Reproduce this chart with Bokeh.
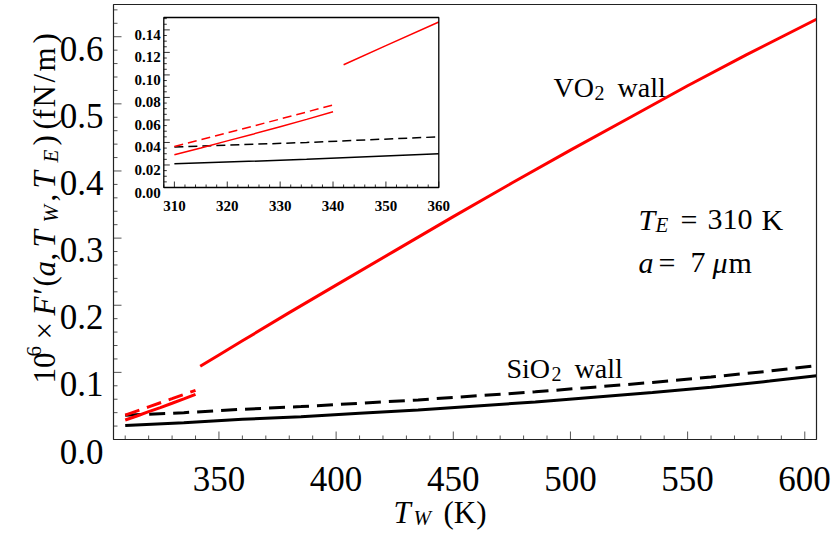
import numpy as np
from bokeh.plotting import figure
from bokeh.models import Range1d, Label
from bokeh.core.properties import value
from bokeh.embed import file_html
from bokeh.resources import INLINE

# ---------------- data ----------------
# VO2 wall, insulating phase
t_vo2_ins = [310, 315, 320, 325, 330, 335, 340]
f_vo2_ins_solid = [0.029, 0.035, 0.0414, 0.0476, 0.054, 0.0605, 0.0672]
t_vo2_ins_dash = [310, 320, 330, 340]
f_vo2_ins_dash = [0.0364, 0.0486, 0.0608, 0.0733]
# VO2 wall, metallic phase
t_vo2_met = [342, 350, 360, 380, 400, 425, 450, 475, 500, 525, 550, 575, 605]
f_vo2_met = [0.109, 0.126, 0.147, 0.189, 0.230, 0.281, 0.332, 0.382, 0.431,
             0.479, 0.527, 0.573, 0.626]
# SiO2 wall
t_sio2 = [310, 335, 360, 385, 410, 435, 460, 485, 510, 535, 560, 585, 605]
f_sio2_solid = [0.021, 0.025, 0.030, 0.034, 0.039, 0.044, 0.050, 0.056, 0.063,
                0.070, 0.078, 0.087, 0.095]
f_sio2_dash = [0.036, 0.040, 0.045, 0.049, 0.054, 0.059, 0.065, 0.071, 0.078,
               0.085, 0.093, 0.102, 0.110]

# main axes
x_lim = (305, 605)
y_lim = (0.0, 0.648)
x_major = [350, 400, 450, 500, 550, 600]
x_minor = [v for v in range(310, 601, 10) if v % 50 != 0]
y_major = [0.0, 0.1, 0.2, 0.3, 0.4, 0.5, 0.6]
y_minor = [round(0.02 * i, 2) for i in range(1, 33) if i % 5 != 0]

# inset axes
ix_lim = (308, 360)
iy_lim = (0.0, 0.151)
ix_major = [310, 320, 330, 340, 350, 360]
ix_minor = [v for v in range(308, 361, 2) if v % 10 != 0]
iy_major = [0.00, 0.02, 0.04, 0.06, 0.08, 0.10, 0.12, 0.14]
iy_minor = [round(0.005 * i, 3) for i in range(0, 31) if i % 4 != 0]

# ---------------- layout geometry (window pixels) ----------------
OFFX, OFFY = 0, 8        # canvas origin in the window
W, H = 831, 530          # canvas size
FL, FR, FT, FB = 113.0, 816.0, 12.0, 447.0      # main plot box
IL, IR, IT, IB = 163.3, 438.3, 25.0, 195.0      # inset box
SERIF = "Liberation Serif"

kx = (FR - FL) / (x_lim[1] - x_lim[0])
ky = (FB - FT) / (y_lim[1] - y_lim[0])
xr = Range1d(x_lim[0] - (FL - OFFX) / kx, x_lim[1] + (OFFX + W - FR) / kx)
yr = Range1d(y_lim[0] - (OFFY + H - FB) / ky, y_lim[1] + (FT - OFFY) / ky)

p = figure(width=W, height=H, x_range=xr, y_range=yr,
           output_backend="svg", toolbar_location=None,
           x_axis_location=None, y_axis_location=None, min_border=0)
p.grid.visible = False
p.outline_line_color = None
p.background_fill_color = "white"
p.border_fill_color = "white"

def px2x(px):
    return xr.start + (px - OFFX) / kx

def px2y(py):
    return yr.start + (OFFY + H - py) / ky

TICK = "#555555"
# main ticks (inward)
p.segment(x0=x_major, x1=x_major, y0=[y_lim[0]] * len(x_major),
          y1=[y_lim[0] + 8 / ky] * len(x_major), line_color=TICK, line_width=1)
p.segment(x0=x_minor, x1=x_minor, y0=[y_lim[0]] * len(x_minor),
          y1=[y_lim[0] + 4 / ky] * len(x_minor), line_color=TICK, line_width=1)
p.segment(x0=[x_lim[0]] * len(y_major), x1=[x_lim[0] + 8 / kx] * len(y_major),
          y0=y_major, y1=y_major, line_color=TICK, line_width=1)
p.segment(x0=[x_lim[0]] * len(y_minor), x1=[x_lim[0] + 4 / kx] * len(y_minor),
          y0=y_minor, y1=y_minor, line_color=TICK, line_width=1)

# main tick labels (the last one is kept inside the canvas)
x_lab_pos = [min(v, px2x(OFFX + W - 27)) for v in x_major]
p.text(x=x_lab_pos, y=[px2y(486)] * len(x_major), text=["%d" % v for v in x_major],
       text_font=value(SERIF), text_font_size="35px", text_color="black",
       text_align="center", text_baseline="alphabetic")
p.text(x=[px2x(103)] * len(y_major), y=[v - 12 / ky for v in y_major],
       text=["%.1f" % v for v in y_major],
       text_font=value(SERIF), text_font_size="35px", text_color="black",
       text_align="right", text_baseline="alphabetic")

# ---------------- main curves ----------------
LW = 3
p.line(t_sio2, f_sio2_solid, line_color="black", line_width=LW)
p.line(t_sio2, f_sio2_dash, line_color="black", line_width=LW, line_dash="16 8")
p.line(t_vo2_ins, f_vo2_ins_solid, line_color="red", line_width=LW)
p.line(t_vo2_ins_dash, f_vo2_ins_dash, line_color="red", line_width=LW, line_dash="15 8")
p.line(t_vo2_met, f_vo2_met, line_color="red", line_width=LW)

# main box
p.quad(left=[x_lim[0]], right=[x_lim[1]], bottom=[y_lim[0]], top=[y_lim[1]],
       fill_color=None, line_color="#222222", line_width=1.2)

# ---------------- inset ----------------
sx = (IR - IL) / (ix_lim[1] - ix_lim[0])
sy = (IB - IT) / (iy_lim[1] - iy_lim[0])
p.extra_x_ranges = {"ix": Range1d(ix_lim[0] - (IL - OFFX) / sx,
                                  ix_lim[1] + (OFFX + W - IR) / sx)}
p.extra_y_ranges = {"iy": Range1d(iy_lim[0] - (OFFY + H - IB) / sy,
                                  iy_lim[1] + (IT - OFFY) / sy)}
R = dict(x_range_name="ix", y_range_name="iy")

p.quad(left=[ix_lim[0]], right=[ix_lim[1]], bottom=[iy_lim[0]], top=[iy_lim[1]],
       fill_color="white", line_color=None, **R)

p.segment(x0=ix_major, x1=ix_major, y0=[iy_lim[0]] * len(ix_major),
          y1=[iy_lim[0] + 6 / sy] * len(ix_major), line_color="#333333", line_width=1, **R)
p.segment(x0=ix_minor, x1=ix_minor, y0=[iy_lim[0]] * len(ix_minor),
          y1=[iy_lim[0] + 3 / sy] * len(ix_minor), line_color="#333333", line_width=1, **R)
p.segment(x0=[ix_lim[0]] * len(iy_major), x1=[ix_lim[0] + 6 / sx] * len(iy_major),
          y0=iy_major, y1=iy_major, line_color="#333333", line_width=1, **R)
p.segment(x0=[ix_lim[0]] * len(iy_minor), x1=[ix_lim[0] + 3 / sx] * len(iy_minor),
          y0=iy_minor, y1=iy_minor, line_color="#333333", line_width=1, **R)

p.text(x=ix_major, y=[iy_lim[0] - 18 / sy] * len(ix_major), text=[str(v) for v in ix_major],
       text_font=value(SERIF), text_font_style="bold", text_font_size="15px",
       text_align="center", text_baseline="alphabetic", text_color="black", **R)
p.text(x=[ix_lim[0] - 3 / sx] * len(iy_major), y=[v - 5 / sy for v in iy_major],
       text=["%.2f" % v for v in iy_major],
       text_font=value(SERIF), text_font_style="bold", text_font_size="15px",
       text_align="right", text_baseline="alphabetic", text_color="black", **R)

def clip(t, f):
    t = np.asarray(t, float); f = np.asarray(f, float)
    m = t <= ix_lim[1]
    return t[m], f[m]

ILW = 1.5
p.line(*clip(t_sio2, f_sio2_solid), line_color="black", line_width=ILW, **R)
p.line(*clip(t_sio2, f_sio2_dash), line_color="black", line_width=ILW, line_dash="9 5", **R)
p.line(*clip(t_vo2_ins, f_vo2_ins_solid), line_color="red", line_width=ILW, **R)
p.line(*clip(t_vo2_ins_dash, f_vo2_ins_dash), line_color="red", line_width=ILW, line_dash="9 5", **R)
p.line(*clip(t_vo2_met, f_vo2_met), line_color="red", line_width=ILW, **R)

p.quad(left=[ix_lim[0]], right=[ix_lim[1]], bottom=[iy_lim[0]], top=[iy_lim[1]],
       fill_color=None, line_color="black", line_width=1.3, **R)

# ---------------- texts ----------------
def put(text, px, py, size, style="normal", angle=0.0):
    p.add_layout(Label(x=px2x(px), y=px2y(py), text=text, text_font=SERIF,
                       text_font_size=f"{size}px", text_font_style=style,
                       text_color="black", text_align="left",
                       text_baseline="alphabetic", angle=angle, angle_units="rad"))

# y-axis label (rotated, reading upward): (text, style, size, start y, baseline x)
ylab = [("10", "normal", 31, 391, 44),
        ("6", "normal", 21, 364, 33),
        ("\u00d7", "normal", 31, 347, 44),
        ("F", "italic", 31, 323, 44),
        ("\u2032", "normal", 31, 302, 44),
        ("(", "normal", 31, 294, 44),
        ("a", "italic", 31, 284, 44),
        (",", "normal", 31, 268, 44),
        ("T", "italic", 31, 255, 44),
        ("W", "italic", 21, 230, 50),
        (",", "normal", 31, 209, 44),
        ("T", "italic", 31, 196, 44),
        ("E", "italic", 21, 170, 50),
        (")", "normal", 31, 153, 44),
        ("(", "normal", 31, 137, 44),
        ("f", "normal", 31, 127, 44),
        ("N", "normal", 31, 115, 44),
        ("/", "normal", 31, 90, 44),
        ("m", "normal", 31, 79, 44),
        (")", "normal", 31, 51, 44)]
for txt, st, sz, ypos, xb in ylab:
    put(txt, xb, ypos, sz, st, angle=np.pi / 2)

# x-axis label
put("T", 393, 520, 31, "italic")
put("W", 413, 525, 21, "italic")
put("(K)", 443, 520, 31)

# in-plot annotations
put("VO", 553, 95, 28)
put("2", 594, 100, 20)
put("wall", 617, 95, 28)

put("SiO", 506, 376, 28)
put("2", 551, 381, 20)
put("wall", 574, 376, 28)

put("T", 638, 227, 30, "italic")
put("E", 655, 232, 21, "italic")
put("=", 680, 227, 30)
put("310", 707, 227, 30)
put("K", 761, 227, 30)

put("a", 638, 270, 30, "italic")
put("=", 658, 270, 30)
put("7", 690, 270, 30)
put("\u03bc", 712, 270, 30, "italic")
put("m", 728, 270, 30)

open("out.html", "w").write(file_html(p, INLINE))
